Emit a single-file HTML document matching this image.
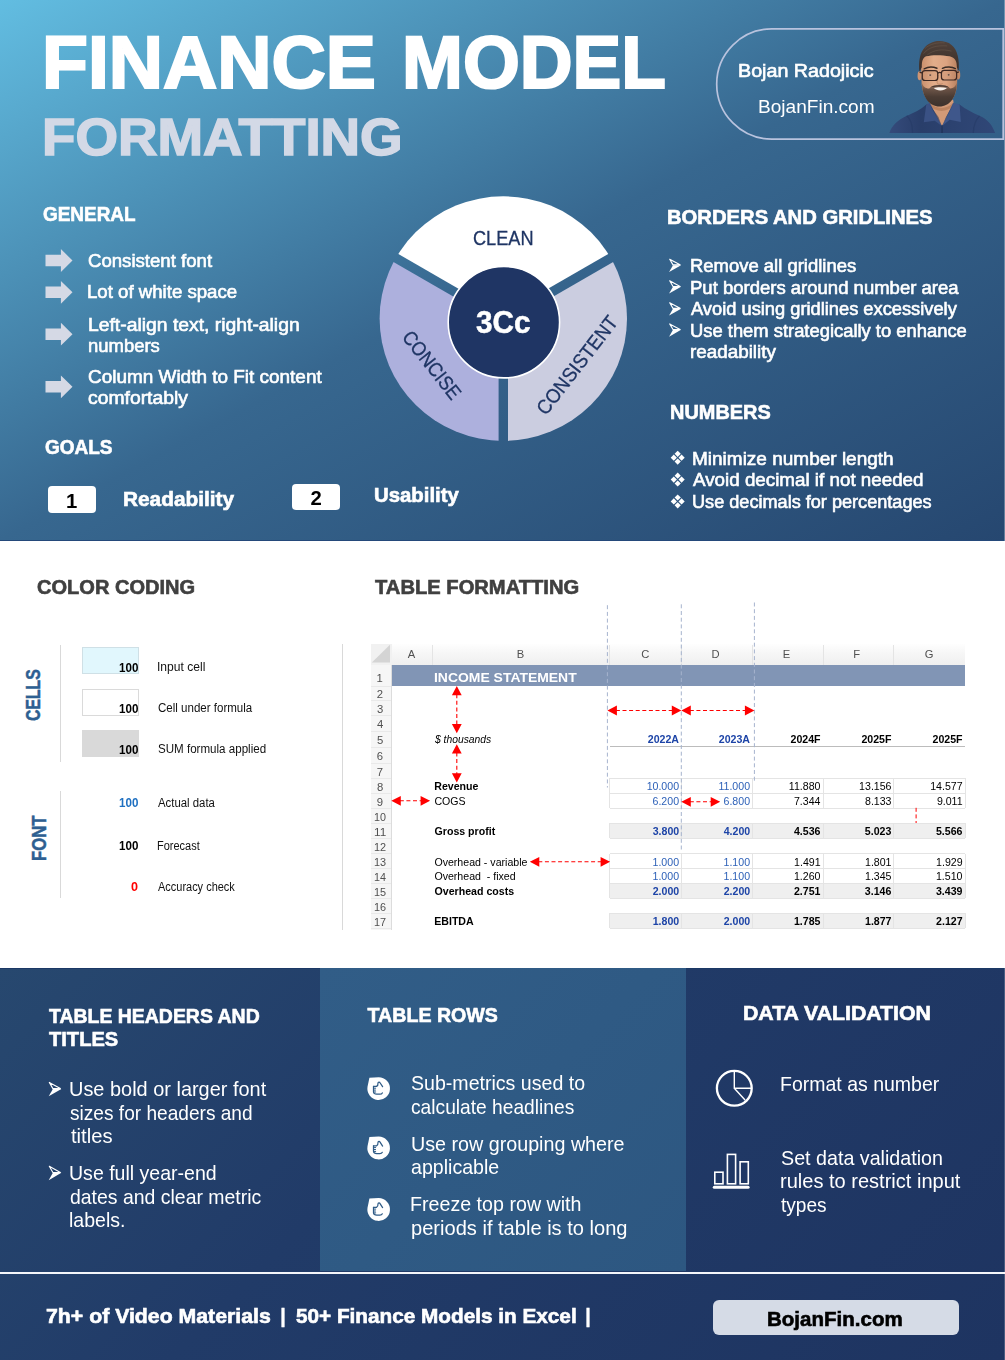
<!DOCTYPE html>
<html lang="en">
<head>
<meta charset="utf-8">
<title>Finance Model Formatting</title>
<style>
html,body{margin:0;padding:0;background:#fff;}
body{width:1005px;height:1360px;overflow:hidden;font-family:"Liberation Sans",sans-serif;}
#page{position:relative;width:1005px;height:1360px;overflow:hidden;background:#fff;}
.t{position:absolute;white-space:pre;line-height:1;transform-origin:0 0;display:block;}
.abs{position:absolute;}
svg{position:absolute;left:0;top:0;overflow:visible;}
#top{position:absolute;left:0;top:0;width:1005px;height:541px;background:linear-gradient(to bottom right,#62bde1 0%,#37678f 50%,#264770 100%);border-bottom:1px solid #24497a;box-sizing:border-box;}
#bot{position:absolute;left:0;top:967.5px;width:1005px;height:392.5px;background:linear-gradient(135deg,#27486f 0%,#213b68 40%,#1e3461 100%);border-top:1px solid #1b3865;box-sizing:border-box;}
#midpanel{position:absolute;left:319.7px;top:967.5px;width:366.3px;height:303px;background:linear-gradient(135deg,#315d87 0%,#2d5781 100%);}
#hr{position:absolute;left:0;top:1272.2px;width:1005px;height:1.7px;background:#f4f6fa;}
.box{position:absolute;background:#fff;border-radius:4px;}
#tl{position:absolute;left:0;top:0;width:1005px;height:1360px;will-change:transform;}

</style>
</head>
<body>
<div id="page">
<div id="top"></div>
<div class="box" style="left:48.4px;top:485.7px;width:47.3px;height:27.3px;"></div>
<div class="box" style="left:292px;top:483.7px;width:47.5px;height:26.8px;"></div>
<svg width="1005" height="541" viewBox="0 0 1005 541">
<path d="M1003.2 28.9 H771.8 A55.1 55.1 0 0 0 771.8 139.1 H1003.2 Z" fill="none" stroke="#b9c3de" stroke-width="1.7"/>
<defs>
<linearGradient id="skin" x1="0" y1="0" x2="1" y2="0"><stop offset="0" stop-color="#c98f6c"/><stop offset="0.35" stop-color="#e2ad8a"/><stop offset="0.7" stop-color="#dca381"/><stop offset="1" stop-color="#b98260"/></linearGradient>
<linearGradient id="shirt" x1="0" y1="0" x2="1" y2="0"><stop offset="0" stop-color="#354b7b"/><stop offset="0.3" stop-color="#293e6a"/><stop offset="0.6" stop-color="#2c4270"/><stop offset="1" stop-color="#304777"/></linearGradient>
<linearGradient id="hair" x1="0" y1="0" x2="0" y2="1"><stop offset="0" stop-color="#51423a"/><stop offset="1" stop-color="#382c27"/></linearGradient>
<linearGradient id="beard" x1="0" y1="0" x2="0" y2="1"><stop offset="0" stop-color="#6a5246" stop-opacity="0.35"/><stop offset="0.3" stop-color="#4d3d36" stop-opacity="0.8"/><stop offset="0.6" stop-color="#43362f" stop-opacity="0.95"/><stop offset="1" stop-color="#3d312c"/></linearGradient>
</defs>
<g id="portrait" transform="translate(880 30) scale(0.12438)">
<path d="M75 828 C95 770 140 725 215 690 C270 665 330 640 372 598 L640 598 C690 640 745 662 800 690 C870 722 905 770 925 828 Z" fill="url(#shirt)"/>
<path d="M215 690 C250 720 262 770 262 828 M800 690 C770 720 752 770 750 828" stroke="#243a66" stroke-width="10" fill="none" opacity="0.6"/>
<path d="M398 560 L588 560 L600 640 L498 770 L385 640 Z" fill="#d39a77"/>
<path d="M398 585 C450 640 540 640 588 585 L590 610 C540 665 450 665 396 610 Z" fill="#a9714f" opacity="0.55"/>
<path d="M372 598 L400 585 L497 772 L440 730 L352 742 Z" fill="#3a5184"/>
<path d="M640 598 L588 585 L500 772 L560 722 L650 740 Z" fill="#3f578b"/>
<path d="M494 765 L504 765 L506 828 L492 828 Z" fill="#22355c"/>
<path d="M400 600 L497 772 L470 700 Z M588 598 L500 772 L530 700 Z" fill="#1d2f55" opacity="0.55"/>
<ellipse cx="318" cy="368" rx="16" ry="36" fill="#cf9572"/>
<ellipse cx="630" cy="362" rx="15" ry="36" fill="#c38a68"/>
<path d="M330 300 C325 200 380 170 475 170 C570 170 628 205 622 300 L620 440 C612 540 560 612 478 612 C400 612 345 540 335 440 Z" fill="url(#skin)"/>
<path d="M336 420 C345 455 365 470 395 470 C415 448 440 440 480 440 C520 440 545 448 565 470 C590 468 608 455 618 420 C618 540 560 615 478 615 C398 615 338 540 336 420 Z" fill="url(#beard)"/>
<path d="M405 462 C430 438 530 438 556 462 C530 452 430 452 405 462 Z" fill="#3a2d28"/>
<path d="M432 466 C460 458 505 458 538 466 C515 492 455 492 432 466 Z" fill="#f6f1ec"/>
<path d="M318 335 C305 215 335 120 440 92 C480 84 540 88 575 120 C625 160 640 240 632 330 L618 300 C618 250 605 225 560 212 C500 200 420 198 370 212 C340 225 336 262 336 300 Z" fill="url(#hair)"/>
<path d="M360 150 C400 110 470 98 520 104 M350 190 C390 140 450 122 540 128 M380 200 C430 160 500 150 575 170" stroke="#6a584c" stroke-width="7" fill="none" opacity="0.6"/>
<path d="M355 312 C385 296 430 296 458 308 M502 308 C530 294 580 294 606 310" stroke="#3a2c26" stroke-width="12" fill="none" stroke-linecap="round"/>
<ellipse cx="402" cy="362" rx="15" ry="7" fill="#fff" opacity="0.35"/><ellipse cx="552" cy="360" rx="15" ry="7" fill="#fff" opacity="0.35"/>
<ellipse cx="404" cy="362" rx="9" ry="7" fill="#2c1f1a" opacity="0.85"/><ellipse cx="552" cy="360" rx="9" ry="7" fill="#2c1f1a" opacity="0.85"/>
<path d="M470 360 C465 400 455 420 462 430 C475 438 490 438 503 430" stroke="#b57f5e" stroke-width="7" fill="none" opacity="0.8"/>
<rect x="340" y="326" width="124" height="80" rx="22" fill="#c89070" fill-opacity="0.25" stroke="#3c2823" stroke-width="10"/>
<rect x="494" y="324" width="122" height="78" rx="22" fill="#c89070" fill-opacity="0.25" stroke="#3c2823" stroke-width="10"/>
<path d="M464 348 C474 340 486 340 494 346 M340 345 L318 340 M616 342 L634 336" stroke="#3c2823" stroke-width="10" fill="none"/>
</g>
<path d="M45.5 254.7 H60.9 V249.1 L72.5 260.5 L60.9 271.9 V266.3 H45.5 Z" fill="#d5d9e5"/>
<path d="M45.5 286.5 H60.9 V280.9 L72.5 292.3 L60.9 303.7 V298.1 H45.5 Z" fill="#d5d9e5"/>
<path d="M45.5 328.4 H60.9 V322.8 L72.5 334.2 L60.9 345.6 V340.0 H45.5 Z" fill="#d5d9e5"/>
<path d="M45.5 381.0 H60.9 V375.4 L72.5 386.8 L60.9 398.2 V392.6 H45.5 Z" fill="#d5d9e5"/>
<defs><mask id="dm" maskUnits="userSpaceOnUse" x="370" y="190" width="270" height="260">
<ellipse cx="503.3" cy="318.6" rx="123.7" ry="122.3" fill="#fff"/>
<line x1="503.3" y1="320.0" x2="503.30" y2="520.00" stroke="#000" stroke-width="9.4"/>
<line x1="503.3" y1="320.0" x2="330.09" y2="220.00" stroke="#000" stroke-width="9.4"/>
<line x1="503.3" y1="320.0" x2="676.51" y2="220.00" stroke="#000" stroke-width="9.4"/>
</mask></defs>
<g mask="url(#dm)">
<path d="M503.3 320.0 L330.09 220.00 A200 200 0 0 1 676.51 220.00 Z" fill="#ffffff"/>
<path d="M503.3 320.0 L676.51 220.00 A200 200 0 0 1 503.30 520.00 Z" fill="#cbcde0"/>
<path d="M503.3 320.0 L503.30 520.00 A200 200 0 0 1 330.09 220.00 Z" fill="#adb0dd"/>
</g>
<circle cx="503.9" cy="322.2" r="55.7" fill="#1f3564" stroke="#ffffff" stroke-width="1.6"/>
<path d="M673.0 265.15 L681.1 265.15 L669.1 272.00 Z" fill="#fff"/><path d="M669.7 259.20 L680.1 264.85 L673.0 264.85 Z" fill="none" stroke="#fff" stroke-width="1.1" stroke-linejoin="round"/>
<path d="M673.0 286.75 L681.1 286.75 L669.1 293.60 Z" fill="#fff"/><path d="M669.7 280.80 L680.1 286.45 L673.0 286.45 Z" fill="none" stroke="#fff" stroke-width="1.1" stroke-linejoin="round"/>
<path d="M673.0 308.65 L681.1 308.65 L669.1 315.50 Z" fill="#fff"/><path d="M669.7 302.70 L680.1 308.35 L673.0 308.35 Z" fill="none" stroke="#fff" stroke-width="1.1" stroke-linejoin="round"/>
<path d="M673.0 329.85 L681.1 329.85 L669.1 336.70 Z" fill="#fff"/><path d="M669.7 323.90 L680.1 329.55 L673.0 329.55 Z" fill="none" stroke="#fff" stroke-width="1.1" stroke-linejoin="round"/>
<path d="M677.70 450.70 L680.80 453.80 L677.70 456.90 L674.60 453.80 Z" fill="#fff"/><path d="M677.70 458.50 L680.80 461.60 L677.70 464.70 L674.60 461.60 Z" fill="#fff"/><path d="M673.80 454.60 L676.90 457.70 L673.80 460.80 L670.70 457.70 Z" fill="#fff"/><path d="M681.60 454.60 L684.70 457.70 L681.60 460.80 L678.50 457.70 Z" fill="#fff"/>
<path d="M677.70 472.60 L680.80 475.70 L677.70 478.80 L674.60 475.70 Z" fill="#fff"/><path d="M677.70 480.40 L680.80 483.50 L677.70 486.60 L674.60 483.50 Z" fill="#fff"/><path d="M673.80 476.50 L676.90 479.60 L673.80 482.70 L670.70 479.60 Z" fill="#fff"/><path d="M681.60 476.50 L684.70 479.60 L681.60 482.70 L678.50 479.60 Z" fill="#fff"/>
<path d="M677.70 494.40 L680.80 497.50 L677.70 500.60 L674.60 497.50 Z" fill="#fff"/><path d="M677.70 502.20 L680.80 505.30 L677.70 508.40 L674.60 505.30 Z" fill="#fff"/><path d="M673.80 498.30 L676.90 501.40 L673.80 504.50 L670.70 501.40 Z" fill="#fff"/><path d="M681.60 498.30 L684.70 501.40 L681.60 504.50 L678.50 501.40 Z" fill="#fff"/>
</svg>
<div class="abs" style="left:59.8px;top:645px;width:1px;height:117px;background:#d9d9d9;"></div>
<div class="abs" style="left:59.8px;top:790.8px;width:1px;height:107px;background:#d9d9d9;"></div>
<div class="abs" style="left:342.4px;top:644px;width:1px;height:286px;background:#d9d9d9;"></div>
<div class="abs" style="left:82.4px;top:647.4px;width:56.9px;height:27px;background:#e1f7fd;border:1px solid #cfe0e6;box-sizing:border-box;"></div>
<div class="abs" style="left:82.4px;top:688.6px;width:56.9px;height:27px;background:#fff;border:1px solid #dadada;box-sizing:border-box;"></div>
<div class="abs" style="left:82.4px;top:729.8px;width:56.9px;height:27px;background:#d9d9d9;"></div>
<span class="t" style="left:23.0px;top:721.3px;font-size:20px;font-weight:700;color:#2e5f91;-webkit-text-stroke:0.5px #2e5f91;transform-origin:0 0;transform:rotate(-90deg) scaleX(0.79);">CELLS</span>
<span class="t" style="left:28.6px;top:860.9px;font-size:20px;font-weight:700;color:#2e5f91;-webkit-text-stroke:0.5px #2e5f91;transform-origin:0 0;transform:rotate(-90deg) scaleX(0.835);">FONT</span>
<div class="abs" style="left:370.5px;top:644.0px;width:594.8px;height:21.0px;background:linear-gradient(#fefefe,#f7f7f7 40%,#efefef);"></div>
<div class="abs" style="left:391.1px;top:645.0px;width:1.0px;height:20.0px;background:#e4e4e4;"></div>
<div class="abs" style="left:432.2px;top:645.0px;width:1.0px;height:20.0px;background:#e4e4e4;"></div>
<div class="abs" style="left:609.1px;top:645.0px;width:1.0px;height:20.0px;background:#e4e4e4;"></div>
<div class="abs" style="left:680.5px;top:645.0px;width:1.0px;height:20.0px;background:#e4e4e4;"></div>
<div class="abs" style="left:751.5px;top:645.0px;width:1.0px;height:20.0px;background:#e4e4e4;"></div>
<div class="abs" style="left:822.5px;top:645.0px;width:1.0px;height:20.0px;background:#e4e4e4;"></div>
<div class="abs" style="left:893.3px;top:645.0px;width:1.0px;height:20.0px;background:#e4e4e4;"></div>
<div class="abs" style="left:370.5px;top:644.0px;width:21.1px;height:21.0px;background:#f1f1f1;"></div>
<div class="abs" style="left:370.5px;top:665.0px;width:21.1px;height:264.6px;background:#f6f6f6;border-right:1px solid #dcdcdc;box-sizing:border-box;"></div>
<div class="abs" style="left:370.5px;top:685.5px;width:20.1px;height:1.0px;background:#e9e9e9;"></div>
<div class="abs" style="left:370.5px;top:700.2px;width:20.1px;height:1.0px;background:#e9e9e9;"></div>
<div class="abs" style="left:370.5px;top:715.2px;width:20.1px;height:1.0px;background:#e9e9e9;"></div>
<div class="abs" style="left:370.5px;top:730.8px;width:20.1px;height:1.0px;background:#e9e9e9;"></div>
<div class="abs" style="left:370.5px;top:746.8px;width:20.1px;height:1.0px;background:#e9e9e9;"></div>
<div class="abs" style="left:370.5px;top:762.9px;width:20.1px;height:1.0px;background:#e9e9e9;"></div>
<div class="abs" style="left:370.5px;top:777.8px;width:20.1px;height:1.0px;background:#e9e9e9;"></div>
<div class="abs" style="left:370.5px;top:792.9px;width:20.1px;height:1.0px;background:#e9e9e9;"></div>
<div class="abs" style="left:370.5px;top:807.8px;width:20.1px;height:1.0px;background:#e9e9e9;"></div>
<div class="abs" style="left:370.5px;top:822.8px;width:20.1px;height:1.0px;background:#e9e9e9;"></div>
<div class="abs" style="left:370.5px;top:837.9px;width:20.1px;height:1.0px;background:#e9e9e9;"></div>
<div class="abs" style="left:370.5px;top:853.0px;width:20.1px;height:1.0px;background:#e9e9e9;"></div>
<div class="abs" style="left:370.5px;top:867.8px;width:20.1px;height:1.0px;background:#e9e9e9;"></div>
<div class="abs" style="left:370.5px;top:882.8px;width:20.1px;height:1.0px;background:#e9e9e9;"></div>
<div class="abs" style="left:370.5px;top:897.9px;width:20.1px;height:1.0px;background:#e9e9e9;"></div>
<div class="abs" style="left:370.5px;top:912.8px;width:20.1px;height:1.0px;background:#e9e9e9;"></div>
<div class="abs" style="left:370.5px;top:927.9px;width:20.1px;height:1.0px;background:#e9e9e9;"></div>
<div class="abs" style="left:391.6px;top:665.0px;width:573.7px;height:21.0px;background:#8195b5;"></div>
<div class="abs" style="left:609.6px;top:823.3px;width:355.7px;height:15.1px;background:#efefef;"></div>
<div class="abs" style="left:609.6px;top:883.3px;width:355.7px;height:15.1px;background:#efefef;"></div>
<div class="abs" style="left:609.6px;top:913.3px;width:355.7px;height:15.1px;background:#efefef;"></div>
<div class="abs" style="left:609.6px;top:777.8px;width:355.7px;height:1.0px;background:#e4e4e4;"></div>
<div class="abs" style="left:609.6px;top:792.9px;width:355.7px;height:1.0px;background:#e4e4e4;"></div>
<div class="abs" style="left:609.6px;top:807.8px;width:355.7px;height:1.0px;background:#e4e4e4;"></div>
<div class="abs" style="left:609.1px;top:778.3px;width:1.0px;height:30.0px;background:#e4e4e4;"></div>
<div class="abs" style="left:680.5px;top:778.3px;width:1.0px;height:30.0px;background:#e4e4e4;"></div>
<div class="abs" style="left:751.5px;top:778.3px;width:1.0px;height:30.0px;background:#e4e4e4;"></div>
<div class="abs" style="left:822.5px;top:778.3px;width:1.0px;height:30.0px;background:#e4e4e4;"></div>
<div class="abs" style="left:893.3px;top:778.3px;width:1.0px;height:30.0px;background:#e4e4e4;"></div>
<div class="abs" style="left:964.8px;top:778.3px;width:1.0px;height:30.0px;background:#e4e4e4;"></div>
<div class="abs" style="left:609.6px;top:822.8px;width:355.7px;height:1.0px;background:#e4e4e4;"></div>
<div class="abs" style="left:609.6px;top:837.9px;width:355.7px;height:1.0px;background:#e4e4e4;"></div>
<div class="abs" style="left:609.1px;top:823.3px;width:1.0px;height:15.1px;background:#e4e4e4;"></div>
<div class="abs" style="left:680.5px;top:823.3px;width:1.0px;height:15.1px;background:#e4e4e4;"></div>
<div class="abs" style="left:751.5px;top:823.3px;width:1.0px;height:15.1px;background:#e4e4e4;"></div>
<div class="abs" style="left:822.5px;top:823.3px;width:1.0px;height:15.1px;background:#e4e4e4;"></div>
<div class="abs" style="left:893.3px;top:823.3px;width:1.0px;height:15.1px;background:#e4e4e4;"></div>
<div class="abs" style="left:964.8px;top:823.3px;width:1.0px;height:15.1px;background:#e4e4e4;"></div>
<div class="abs" style="left:609.6px;top:853.0px;width:355.7px;height:1.0px;background:#e4e4e4;"></div>
<div class="abs" style="left:609.6px;top:867.8px;width:355.7px;height:1.0px;background:#e4e4e4;"></div>
<div class="abs" style="left:609.6px;top:882.8px;width:355.7px;height:1.0px;background:#e4e4e4;"></div>
<div class="abs" style="left:609.6px;top:897.9px;width:355.7px;height:1.0px;background:#e4e4e4;"></div>
<div class="abs" style="left:609.1px;top:853.5px;width:1.0px;height:44.9px;background:#e4e4e4;"></div>
<div class="abs" style="left:680.5px;top:853.5px;width:1.0px;height:44.9px;background:#e4e4e4;"></div>
<div class="abs" style="left:751.5px;top:853.5px;width:1.0px;height:44.9px;background:#e4e4e4;"></div>
<div class="abs" style="left:822.5px;top:853.5px;width:1.0px;height:44.9px;background:#e4e4e4;"></div>
<div class="abs" style="left:893.3px;top:853.5px;width:1.0px;height:44.9px;background:#e4e4e4;"></div>
<div class="abs" style="left:964.8px;top:853.5px;width:1.0px;height:44.9px;background:#e4e4e4;"></div>
<div class="abs" style="left:609.6px;top:912.8px;width:355.7px;height:1.0px;background:#e4e4e4;"></div>
<div class="abs" style="left:609.6px;top:927.9px;width:355.7px;height:1.0px;background:#e4e4e4;"></div>
<div class="abs" style="left:609.1px;top:913.3px;width:1.0px;height:15.1px;background:#e4e4e4;"></div>
<div class="abs" style="left:680.5px;top:913.3px;width:1.0px;height:15.1px;background:#e4e4e4;"></div>
<div class="abs" style="left:751.5px;top:913.3px;width:1.0px;height:15.1px;background:#e4e4e4;"></div>
<div class="abs" style="left:822.5px;top:913.3px;width:1.0px;height:15.1px;background:#e4e4e4;"></div>
<div class="abs" style="left:893.3px;top:913.3px;width:1.0px;height:15.1px;background:#e4e4e4;"></div>
<div class="abs" style="left:964.8px;top:913.3px;width:1.0px;height:15.1px;background:#e4e4e4;"></div>
<div class="abs" style="left:609.6px;top:746.2px;width:355.7px;height:1.0px;background:#bcbcbc;"></div>
<svg width="1005" height="1360" viewBox="0 0 1005 1360">
<path d="M371.8 662.6 L390 662.6 L390 644.8 Z" fill="#d4d4d4"/>
<line x1="607.4" y1="605.2" x2="607.4" y2="787.5" stroke="#a6b3ce" stroke-width="1" stroke-dasharray="4 2.7"/>
<line x1="681.3" y1="604.3" x2="681.3" y2="850" stroke="#a6b3ce" stroke-width="1" stroke-dasharray="4 2.7"/>
<line x1="754.4" y1="602.5" x2="754.4" y2="781.5" stroke="#a6b3ce" stroke-width="1" stroke-dasharray="4 2.7"/>
<line x1="456.8" y1="694.2" x2="456.8" y2="725.0" stroke="#ff0000" stroke-width="1.1" stroke-dasharray="4 2.6"/><path d="M456.8 686.0 L451.9 695.2 L461.7 695.2 Z M456.8 733.2 L451.9 724.0 L461.7 724.0 Z" fill="#ff0000"/>
<line x1="456.8" y1="752.5" x2="456.8" y2="774.2" stroke="#ff0000" stroke-width="1.1" stroke-dasharray="4 2.6"/><path d="M456.8 744.3 L451.9 753.5 L461.7 753.5 Z M456.8 782.4 L451.9 773.2 L461.7 773.2 Z" fill="#ff0000"/>
<line x1="615.9" y1="710.5" x2="672.8" y2="710.5" stroke="#ff0000" stroke-width="1.1" stroke-dasharray="4 2.6"/><path d="M607.4 710.5 L616.9 705.6 L616.9 715.4 Z M681.3 710.5 L671.8 705.6 L671.8 715.4 Z" fill="#ff0000"/>
<line x1="689.8" y1="710.5" x2="745.9" y2="710.5" stroke="#ff0000" stroke-width="1.1" stroke-dasharray="4 2.6"/><path d="M681.3 710.5 L690.8 705.6 L690.8 715.4 Z M754.4 710.5 L744.9 705.6 L744.9 715.4 Z" fill="#ff0000"/>
<line x1="399.8" y1="800.8" x2="421.6" y2="800.8" stroke="#ff0000" stroke-width="1.1" stroke-dasharray="4 2.6"/><path d="M391.3 800.8 L400.8 795.9 L400.8 805.7 Z M430.1 800.8 L420.6 795.9 L420.6 805.7 Z" fill="#ff0000"/>
<line x1="689.8" y1="801.8" x2="711.7" y2="801.8" stroke="#ff0000" stroke-width="1.1" stroke-dasharray="4 2.6"/><path d="M681.3 801.8 L690.8 796.9 L690.8 806.7 Z M720.2 801.8 L710.7 796.9 L710.7 806.7 Z" fill="#ff0000"/>
<line x1="538.3" y1="861.8" x2="601.6" y2="861.8" stroke="#ff0000" stroke-width="1.1" stroke-dasharray="4 2.6"/><path d="M529.8 861.8 L539.3 856.9 L539.3 866.7 Z M610.1 861.8 L600.6 856.9 L600.6 866.7 Z" fill="#ff0000"/>
<line x1="916.1" y1="807.8" x2="916.1" y2="823" stroke="#ff0000" stroke-width="1" stroke-dasharray="4 2.6"/>
</svg>
<div id="bot"></div>
<div id="midpanel"></div>
<div id="hr"></div>
<div class="abs" style="left:712.8px;top:1300.1px;width:245.8px;height:35px;background:#d5dbe6;border-radius:6px;"></div>
<svg width="1005" height="1360" viewBox="0 0 1005 1360">
<path d="M52.9 1088.90 L61.4 1088.90 L48.7 1096.30 Z" fill="#fff"/><path d="M49.3 1082.40 L60.4 1088.60 L52.9 1088.60 Z" fill="none" stroke="#fff" stroke-width="1.1" stroke-linejoin="round"/>
<path d="M52.9 1172.80 L61.4 1172.80 L48.7 1180.20 Z" fill="#fff"/><path d="M49.3 1166.30 L60.4 1172.50 L52.9 1172.50 Z" fill="none" stroke="#fff" stroke-width="1.1" stroke-linejoin="round"/>
<g transform="translate(378.7 1088.6)"><path d="M-9.3 -10.9 L0 -11.4 A11.3 11.4 0 1 1 -11.2 -1.8 L-10.3 -6 Z" fill="#fff"/><path d="M-5.2 -2.2 H-2.2 C-1.2 -2.6 -0.6 -4.2 -0.7 -5.6 C-0.7 -6.9 1 -6.9 1.5 -5.6 L3.9 -1.9" fill="none" stroke="#2f5b86" stroke-width="1.25" stroke-linecap="round" stroke-linejoin="round"/><path d="M-5.2 -2.2 V3.4 C-5 4.9 -3.6 5.6 -2 5.6 H1.2 C2.2 5.6 3.2 5.2 3.6 4.3" fill="none" stroke="#2f5b86" stroke-width="1.25" stroke-linecap="round" stroke-linejoin="round"/><path d="M-5.2 -0.4 H-3.0 M-5.2 1.5 H-3.2 M-5 3.4 H-3.0" stroke="#2f5b86" stroke-width="1.0" stroke-linecap="round"/></g>
<g transform="translate(378.7 1148.0)"><path d="M-9.3 -10.9 L0 -11.4 A11.3 11.4 0 1 1 -11.2 -1.8 L-10.3 -6 Z" fill="#fff"/><path d="M-5.2 -2.2 H-2.2 C-1.2 -2.6 -0.6 -4.2 -0.7 -5.6 C-0.7 -6.9 1 -6.9 1.5 -5.6 L3.9 -1.9" fill="none" stroke="#2f5b86" stroke-width="1.25" stroke-linecap="round" stroke-linejoin="round"/><path d="M-5.2 -2.2 V3.4 C-5 4.9 -3.6 5.6 -2 5.6 H1.2 C2.2 5.6 3.2 5.2 3.6 4.3" fill="none" stroke="#2f5b86" stroke-width="1.25" stroke-linecap="round" stroke-linejoin="round"/><path d="M-5.2 -0.4 H-3.0 M-5.2 1.5 H-3.2 M-5 3.4 H-3.0" stroke="#2f5b86" stroke-width="1.0" stroke-linecap="round"/></g>
<g transform="translate(378.7 1209.5)"><path d="M-9.3 -10.9 L0 -11.4 A11.3 11.4 0 1 1 -11.2 -1.8 L-10.3 -6 Z" fill="#fff"/><path d="M-5.2 -2.2 H-2.2 C-1.2 -2.6 -0.6 -4.2 -0.7 -5.6 C-0.7 -6.9 1 -6.9 1.5 -5.6 L3.9 -1.9" fill="none" stroke="#2f5b86" stroke-width="1.25" stroke-linecap="round" stroke-linejoin="round"/><path d="M-5.2 -2.2 V3.4 C-5 4.9 -3.6 5.6 -2 5.6 H1.2 C2.2 5.6 3.2 5.2 3.6 4.3" fill="none" stroke="#2f5b86" stroke-width="1.25" stroke-linecap="round" stroke-linejoin="round"/><path d="M-5.2 -0.4 H-3.0 M-5.2 1.5 H-3.2 M-5 3.4 H-3.0" stroke="#2f5b86" stroke-width="1.0" stroke-linecap="round"/></g>
<g fill="none" stroke="#fff" stroke-linecap="round"><circle cx="734.3" cy="1088.3" r="17.4" stroke-width="2.3"/><path d="M734.3 1071 V1088.3 H751.5 M734.3 1088.3 L744.8 1099.8" stroke-width="1.4"/></g>
<g fill="none" stroke="#fff" stroke-width="1.6"><rect x="714.8" y="1172.2" width="8.2" height="11.6"/><rect x="727.4" y="1154.4" width="8.2" height="29.4"/><rect x="740.1" y="1161.8" width="8.2" height="22"/></g><rect x="712.8" y="1185.8" width="36.8" height="3" rx="1.5" fill="#fff"/>
</svg>
<!-- edge strip --><div class="abs" style="left:1004px;top:0;width:1px;height:541px;background:rgba(255,255,255,.3);"></div><div class="abs" style="left:1004px;top:968px;width:1px;height:392px;background:rgba(255,255,255,.2);"></div>
<!-- text layer -->
<div id="tl">
<span class="t" style="left:432.3px;top:364.9px;font-size:20px;color:#1f3564;-webkit-text-stroke:0.3px #1f3564;transform:rotate(51.7deg) scaleX(0.8902) translate(-50%,-50%);">CONCISE</span>
<span class="t" style="left:576.5px;top:364.6px;font-size:20px;color:#1f3564;-webkit-text-stroke:0.3px #1f3564;transform:rotate(-52.2deg) scaleX(0.9222) translate(-50%,-50%);">CONSISTENT</span>
<span class="t" style="left:41.90px;top:27.00px;font-size:73.4px;color:#ffffff;font-weight:700;-webkit-text-stroke:2.2px #ffffff;transform:scaleX(1.0235);">FINANCE</span>
<span class="t" style="left:402.03px;top:27.00px;font-size:73.4px;color:#ffffff;font-weight:700;-webkit-text-stroke:2.2px #ffffff;transform:scaleX(0.9958);">MODEL</span>
<span class="t" style="left:42.23px;top:112.00px;font-size:51.2px;color:#d3d9e6;font-weight:700;-webkit-text-stroke:1.5px #d3d9e6;transform:scaleX(1.0690);">FORMATTING</span>
<span class="t" style="left:738.26px;top:62.00px;font-size:18px;color:#ffffff;-webkit-text-stroke:0.6px #ffffff;transform:scaleX(1.0933);">Bojan Radojicic</span>
<span class="t" style="left:758.31px;top:97.00px;font-size:19px;color:#ffffff;transform:scaleX(1.0036);">BojanFin.com</span>
<span class="t" style="left:43.11px;top:205.00px;font-size:19.6px;color:#ffffff;font-weight:700;-webkit-text-stroke:0.6px #ffffff;transform:scaleX(0.9665);">GENERAL</span>
<span class="t" style="left:88.13px;top:253.00px;font-size:17.8px;color:#ffffff;-webkit-text-stroke:0.6px #ffffff;transform:scaleX(1.0461);">Consistent font</span>
<span class="t" style="left:87.14px;top:284.00px;font-size:17.8px;color:#ffffff;-webkit-text-stroke:0.6px #ffffff;transform:scaleX(1.0476);">Lot of white space</span>
<span class="t" style="left:87.99px;top:317.00px;font-size:17.8px;color:#ffffff;-webkit-text-stroke:0.6px #ffffff;transform:scaleX(1.0871);">Left-align text, right-align</span>
<span class="t" style="left:88.35px;top:338.00px;font-size:17.8px;color:#ffffff;-webkit-text-stroke:0.6px #ffffff;transform:scaleX(1.0372);">numbers</span>
<span class="t" style="left:87.71px;top:369.00px;font-size:17.8px;color:#ffffff;-webkit-text-stroke:0.6px #ffffff;transform:scaleX(1.0651);">Column Width to Fit content</span>
<span class="t" style="left:88.00px;top:390.00px;font-size:17.8px;color:#ffffff;-webkit-text-stroke:0.6px #ffffff;transform:scaleX(1.0870);">comfortably</span>
<span class="t" style="left:44.71px;top:438.00px;font-size:19.6px;color:#ffffff;font-weight:700;-webkit-text-stroke:0.6px #ffffff;transform:scaleX(0.9685);">GOALS</span>
<span class="t" style="left:122.50px;top:490.00px;font-size:19.6px;color:#ffffff;font-weight:700;-webkit-text-stroke:0.6px #ffffff;transform:scaleX(1.0622);">Readability</span>
<span class="t" style="left:373.65px;top:486.00px;font-size:19.6px;color:#ffffff;font-weight:700;-webkit-text-stroke:0.6px #ffffff;transform:scaleX(1.0383);">Usability</span>
<span class="t" style="left:66.03px;top:491.00px;font-size:20.3px;color:#000;font-weight:700;">1</span>
<span class="t" style="left:310.57px;top:488.00px;font-size:20.3px;color:#000;font-weight:700;">2</span>
<span class="t" style="left:667.44px;top:208.00px;font-size:19.6px;color:#ffffff;font-weight:700;-webkit-text-stroke:0.6px #ffffff;transform:scaleX(1.0322);">BORDERS AND GRIDLINES</span>
<span class="t" style="left:689.86px;top:258.00px;font-size:17.8px;color:#ffffff;-webkit-text-stroke:0.6px #ffffff;transform:scaleX(1.0378);">Remove all gridlines</span>
<span class="t" style="left:689.85px;top:280.00px;font-size:17.8px;color:#ffffff;-webkit-text-stroke:0.6px #ffffff;transform:scaleX(1.0409);">Put borders around number area</span>
<span class="t" style="left:690.90px;top:301.00px;font-size:17.8px;color:#ffffff;-webkit-text-stroke:0.6px #ffffff;transform:scaleX(1.0278);">Avoid using gridlines excessively</span>
<span class="t" style="left:690.15px;top:323.00px;font-size:17.8px;color:#ffffff;-webkit-text-stroke:0.6px #ffffff;transform:scaleX(1.0334);">Use them strategically to enhance</span>
<span class="t" style="left:690.12px;top:344.00px;font-size:17.8px;color:#ffffff;-webkit-text-stroke:0.6px #ffffff;transform:scaleX(1.0597);">readability</span>
<span class="t" style="left:669.55px;top:403.00px;font-size:19.6px;color:#ffffff;font-weight:700;-webkit-text-stroke:0.6px #ffffff;transform:scaleX(1.0170);">NUMBERS</span>
<span class="t" style="left:691.91px;top:451.00px;font-size:17.8px;color:#ffffff;-webkit-text-stroke:0.6px #ffffff;transform:scaleX(1.0682);">Minimize number length</span>
<span class="t" style="left:692.70px;top:472.00px;font-size:17.8px;color:#ffffff;-webkit-text-stroke:0.6px #ffffff;transform:scaleX(1.0568);">Avoid decimal if not needed</span>
<span class="t" style="left:692.27px;top:494.00px;font-size:17.8px;color:#ffffff;-webkit-text-stroke:0.6px #ffffff;transform:scaleX(1.0188);">Use decimals for percentages</span>
<span class="t" style="left:473.30px;top:228.00px;font-size:20.2px;color:#1f3564;-webkit-text-stroke:0.3px #1f3564;transform:scaleX(0.8987);">CLEAN</span>
<span class="t" style="left:475.59px;top:308.00px;font-size:30.8px;color:#ffffff;font-weight:700;-webkit-text-stroke:0.5px #ffffff;transform:scaleX(0.9646);">3Cc</span>
<span class="t" style="left:37.27px;top:578.00px;font-size:19.6px;color:#404040;font-weight:700;-webkit-text-stroke:0.6px #404040;transform:scaleX(1.0226);">COLOR CODING</span>
<span class="t" style="left:374.80px;top:578.00px;font-size:19.6px;color:#404040;font-weight:700;-webkit-text-stroke:0.6px #404040;transform:scaleX(1.0291);">TABLE FORMATTING</span>
<span class="t" style="left:48.70px;top:1007.00px;font-size:19.6px;color:#ffffff;font-weight:700;-webkit-text-stroke:0.6px #ffffff;transform:scaleX(0.9925);">TABLE HEADERS AND</span>
<span class="t" style="left:48.70px;top:1030.00px;font-size:19.6px;color:#ffffff;font-weight:700;-webkit-text-stroke:0.6px #ffffff;transform:scaleX(1.0255);">TITLES</span>
<span class="t" style="left:69.35px;top:1079.00px;font-size:20.3px;color:#ffffff;transform:scaleX(0.9827);">Use bold or larger font</span>
<span class="t" style="left:70.30px;top:1103.00px;font-size:20.3px;color:#ffffff;transform:scaleX(0.9417);">sizes for headers and</span>
<span class="t" style="left:70.60px;top:1126.00px;font-size:20.3px;color:#ffffff;transform:scaleX(0.9974);">titles</span>
<span class="t" style="left:69.38px;top:1163.00px;font-size:20.3px;color:#ffffff;transform:scaleX(0.9633);">Use full year-end</span>
<span class="t" style="left:69.99px;top:1187.00px;font-size:20.3px;color:#ffffff;transform:scaleX(0.9585);">dates and clear metric</span>
<span class="t" style="left:69.38px;top:1210.00px;font-size:20.3px;color:#ffffff;transform:scaleX(0.9626);">labels.</span>
<span class="t" style="left:367.60px;top:1006.00px;font-size:19.6px;color:#ffffff;font-weight:700;-webkit-text-stroke:0.6px #ffffff;">TABLE ROWS</span>
<span class="t" style="left:411.29px;top:1073.00px;font-size:20.3px;color:#ffffff;transform:scaleX(0.9650);">Sub-metrics used to</span>
<span class="t" style="left:411.30px;top:1097.00px;font-size:20.3px;color:#ffffff;transform:scaleX(0.9463);">calculate headlines</span>
<span class="t" style="left:410.67px;top:1134.00px;font-size:20.3px;color:#ffffff;transform:scaleX(0.9714);">Use row grouping where</span>
<span class="t" style="left:411.29px;top:1157.00px;font-size:20.3px;color:#ffffff;transform:scaleX(0.9660);">applicable</span>
<span class="t" style="left:410.36px;top:1194.00px;font-size:20.3px;color:#ffffff;transform:scaleX(0.9690);">Freeze top row with</span>
<span class="t" style="left:410.64px;top:1218.00px;font-size:20.3px;color:#ffffff;transform:scaleX(0.9898);">periods if table is to long</span>
<span class="t" style="left:742.77px;top:1004.00px;font-size:19.6px;color:#ffffff;font-weight:700;-webkit-text-stroke:0.6px #ffffff;transform:scaleX(1.0857);">DATA VALIDATION</span>
<span class="t" style="left:779.68px;top:1074.00px;font-size:20.3px;color:#ffffff;transform:scaleX(0.9613);">Format as number</span>
<span class="t" style="left:780.58px;top:1148.00px;font-size:20.3px;color:#ffffff;transform:scaleX(0.9706);">Set data validation</span>
<span class="t" style="left:779.95px;top:1171.00px;font-size:20.3px;color:#ffffff;transform:scaleX(0.9880);">rules to restrict input</span>
<span class="t" style="left:781.20px;top:1195.00px;font-size:20.3px;color:#ffffff;transform:scaleX(0.9418);">types</span>
<span class="t" style="left:46.04px;top:1307.00px;font-size:19.6px;color:#ffffff;font-weight:700;-webkit-text-stroke:0.6px #ffffff;transform:scaleX(1.0854);">7h+ of Video Materials</span>
<span class="t" style="left:280.17px;top:1307.00px;font-size:19.6px;color:#ffffff;font-weight:700;-webkit-text-stroke:0.4px #ffffff;">|</span>
<span class="t" style="left:295.78px;top:1307.00px;font-size:19.6px;color:#ffffff;font-weight:700;-webkit-text-stroke:0.6px #ffffff;transform:scaleX(1.0584);">50+ Finance Models in Excel</span>
<span class="t" style="left:585.27px;top:1307.00px;font-size:19.6px;color:#ffffff;font-weight:700;-webkit-text-stroke:0.4px #ffffff;">|</span>
<span class="t" style="left:767.12px;top:1309.00px;font-size:20.2px;color:#000;font-weight:700;-webkit-text-stroke:0.6px #000;transform:scaleX(1.0164);">BojanFin.com</span>
<span class="t" style="left:118.57px;top:661.00px;font-size:13.2px;color:#000000;font-weight:700;transform:scaleX(0.8808);">100</span>
<span class="t" style="left:118.57px;top:702.00px;font-size:13.2px;color:#000000;font-weight:700;transform:scaleX(0.8808);">100</span>
<span class="t" style="left:118.57px;top:743.00px;font-size:13.2px;color:#000000;font-weight:700;transform:scaleX(0.8808);">100</span>
<span class="t" style="left:118.57px;top:796.00px;font-size:13.2px;color:#1f70c1;font-weight:700;transform:scaleX(0.8808);">100</span>
<span class="t" style="left:118.57px;top:839.00px;font-size:13.2px;color:#000000;font-weight:700;transform:scaleX(0.8808);">100</span>
<span class="t" style="left:131.01px;top:880.00px;font-size:13.2px;color:#ff0000;font-weight:700;transform:scaleX(0.9541);">0</span>
<span class="t" style="left:157.36px;top:661.00px;font-size:12.3px;color:#111111;transform:scaleX(0.9819);">Input cell</span>
<span class="t" style="left:157.76px;top:702.00px;font-size:12.3px;color:#111111;transform:scaleX(0.9380);">Cell under formula</span>
<span class="t" style="left:157.94px;top:743.00px;font-size:12.3px;color:#111111;transform:scaleX(0.9413);">SUM formula applied</span>
<span class="t" style="left:158.30px;top:797.00px;font-size:12.3px;color:#111111;transform:scaleX(0.9250);">Actual data</span>
<span class="t" style="left:157.44px;top:840.00px;font-size:12.3px;color:#111111;transform:scaleX(0.8928);">Forecast</span>
<span class="t" style="left:158.30px;top:881.00px;font-size:12.3px;color:#111111;transform:scaleX(0.8920);">Accuracy check</span>
<span class="t" style="left:411.30px;top:649.00px;font-size:11.2px;color:#505050;margin-left:-3.6px;">A</span>
<span class="t" style="left:520.33px;top:649.00px;font-size:11.2px;color:#505050;margin-left:-3.6px;">B</span>
<span class="t" style="left:644.88px;top:649.00px;font-size:11.2px;color:#505050;margin-left:-3.6px;">C</span>
<span class="t" style="left:715.12px;top:649.00px;font-size:11.2px;color:#505050;margin-left:-3.6px;">D</span>
<span class="t" style="left:786.23px;top:649.00px;font-size:11.2px;color:#505050;margin-left:-3.6px;">E</span>
<span class="t" style="left:856.92px;top:649.00px;font-size:11.2px;color:#505050;margin-left:-3.6px;">F</span>
<span class="t" style="left:928.38px;top:649.00px;font-size:11.2px;color:#505050;margin-left:-3.6px;">G</span>
<span class="t" style="left:376.59px;top:673.00px;font-size:11.3px;color:#505050;">1</span>
<span class="t" style="left:376.77px;top:689.00px;font-size:11.3px;color:#505050;">2</span>
<span class="t" style="left:376.95px;top:704.00px;font-size:11.3px;color:#505050;">3</span>
<span class="t" style="left:377.12px;top:719.00px;font-size:11.3px;color:#505050;">4</span>
<span class="t" style="left:376.95px;top:735.00px;font-size:11.3px;color:#505050;">5</span>
<span class="t" style="left:376.77px;top:751.00px;font-size:11.3px;color:#505050;">6</span>
<span class="t" style="left:376.77px;top:767.00px;font-size:11.3px;color:#505050;">7</span>
<span class="t" style="left:376.95px;top:782.00px;font-size:11.3px;color:#505050;">8</span>
<span class="t" style="left:376.77px;top:797.00px;font-size:11.3px;color:#505050;">9</span>
<span class="t" style="left:374.23px;top:812.00px;font-size:11.3px;color:#505050;transform:scaleX(0.9498);">10</span>
<span class="t" style="left:374.16px;top:827.00px;font-size:11.3px;color:#505050;transform:scaleX(1.0411);">11</span>
<span class="t" style="left:374.22px;top:842.00px;font-size:11.3px;color:#505050;transform:scaleX(0.9645);">12</span>
<span class="t" style="left:374.22px;top:857.00px;font-size:11.3px;color:#505050;transform:scaleX(0.9645);">13</span>
<span class="t" style="left:374.23px;top:872.00px;font-size:11.3px;color:#505050;transform:scaleX(0.9498);">14</span>
<span class="t" style="left:374.22px;top:887.00px;font-size:11.3px;color:#505050;transform:scaleX(0.9645);">15</span>
<span class="t" style="left:374.22px;top:902.00px;font-size:11.3px;color:#505050;transform:scaleX(0.9645);">16</span>
<span class="t" style="left:374.22px;top:917.00px;font-size:11.3px;color:#505050;transform:scaleX(0.9645);">17</span>
<span class="t" style="left:434.23px;top:671.00px;font-size:13.4px;color:#ffffff;font-weight:700;transform:scaleX(1.0406);">INCOME STATEMENT</span>
<span class="t" style="left:435.26px;top:734.00px;font-size:10.6px;color:#000;font-style:italic;transform:scaleX(0.9748);">$ thousands</span>
<span class="t" style="left:647.77px;top:734.00px;font-size:10.6px;color:#1d44a7;font-weight:700;">2022A</span>
<span class="t" style="left:718.77px;top:734.00px;font-size:10.6px;color:#1d44a7;font-weight:700;">2023A</span>
<span class="t" style="left:790.49px;top:734.00px;font-size:10.6px;color:#000000;font-weight:700;">2024F</span>
<span class="t" style="left:861.39px;top:734.00px;font-size:10.6px;color:#000000;font-weight:700;">2025F</span>
<span class="t" style="left:932.49px;top:734.00px;font-size:10.6px;color:#000000;font-weight:700;">2025F</span>
<span class="t" style="left:434.24px;top:781.00px;font-size:10.6px;color:#000;font-weight:700;">Revenue</span>
<span class="t" style="left:646.64px;top:781.00px;font-size:10.6px;color:#2f62b8;">10.000</span>
<span class="t" style="left:718.43px;top:781.00px;font-size:10.6px;color:#2f62b8;">11.000</span>
<span class="t" style="left:788.83px;top:781.00px;font-size:10.6px;color:#000000;">11.880</span>
<span class="t" style="left:859.11px;top:781.00px;font-size:10.6px;color:#000000;">13.156</span>
<span class="t" style="left:930.21px;top:781.00px;font-size:10.6px;color:#000000;">14.577</span>
<span class="t" style="left:434.40px;top:796.00px;font-size:10.6px;color:#000;">COGS</span>
<span class="t" style="left:652.54px;top:796.00px;font-size:10.6px;color:#2f62b8;">6.200</span>
<span class="t" style="left:723.54px;top:796.00px;font-size:10.6px;color:#2f62b8;">6.800</span>
<span class="t" style="left:793.94px;top:796.00px;font-size:10.6px;color:#000000;">7.344</span>
<span class="t" style="left:865.00px;top:796.00px;font-size:10.6px;color:#000000;">8.133</span>
<span class="t" style="left:936.89px;top:796.00px;font-size:10.6px;color:#000000;">9.011</span>
<span class="t" style="left:434.57px;top:826.00px;font-size:10.6px;color:#000;font-weight:700;">Gross profit</span>
<span class="t" style="left:652.70px;top:826.00px;font-size:10.6px;color:#1d44a7;font-weight:700;">3.800</span>
<span class="t" style="left:723.70px;top:826.00px;font-size:10.6px;color:#1d44a7;font-weight:700;">4.200</span>
<span class="t" style="left:793.94px;top:826.00px;font-size:10.6px;color:#000000;font-weight:700;">4.536</span>
<span class="t" style="left:864.84px;top:826.00px;font-size:10.6px;color:#000000;font-weight:700;">5.023</span>
<span class="t" style="left:935.94px;top:826.00px;font-size:10.6px;color:#000000;font-weight:700;">5.566</span>
<span class="t" style="left:434.40px;top:857.00px;font-size:10.6px;color:#000;">Overhead - variable</span>
<span class="t" style="left:652.54px;top:857.00px;font-size:10.6px;color:#2f62b8;">1.000</span>
<span class="t" style="left:723.54px;top:857.00px;font-size:10.6px;color:#2f62b8;">1.100</span>
<span class="t" style="left:794.10px;top:857.00px;font-size:10.6px;color:#000000;">1.491</span>
<span class="t" style="left:865.00px;top:857.00px;font-size:10.6px;color:#000000;">1.801</span>
<span class="t" style="left:936.10px;top:857.00px;font-size:10.6px;color:#000000;">1.929</span>
<span class="t" style="left:434.40px;top:871.00px;font-size:10.6px;color:#000;">Overhead  - fixed</span>
<span class="t" style="left:652.54px;top:871.00px;font-size:10.6px;color:#2f62b8;">1.000</span>
<span class="t" style="left:723.54px;top:871.00px;font-size:10.6px;color:#2f62b8;">1.100</span>
<span class="t" style="left:793.94px;top:871.00px;font-size:10.6px;color:#000000;">1.260</span>
<span class="t" style="left:865.00px;top:871.00px;font-size:10.6px;color:#000000;">1.345</span>
<span class="t" style="left:935.94px;top:871.00px;font-size:10.6px;color:#000000;">1.510</span>
<span class="t" style="left:434.57px;top:886.00px;font-size:10.6px;color:#000;font-weight:700;">Overhead costs</span>
<span class="t" style="left:652.70px;top:886.00px;font-size:10.6px;color:#1d44a7;font-weight:700;">2.000</span>
<span class="t" style="left:723.70px;top:886.00px;font-size:10.6px;color:#1d44a7;font-weight:700;">2.200</span>
<span class="t" style="left:793.94px;top:886.00px;font-size:10.6px;color:#000000;font-weight:700;">2.751</span>
<span class="t" style="left:864.84px;top:886.00px;font-size:10.6px;color:#000000;font-weight:700;">3.146</span>
<span class="t" style="left:935.94px;top:886.00px;font-size:10.6px;color:#000000;font-weight:700;">3.439</span>
<span class="t" style="left:434.24px;top:916.00px;font-size:10.6px;color:#000;font-weight:700;">EBITDA</span>
<span class="t" style="left:652.70px;top:916.00px;font-size:10.6px;color:#1d44a7;font-weight:700;">1.800</span>
<span class="t" style="left:723.70px;top:916.00px;font-size:10.6px;color:#1d44a7;font-weight:700;">2.000</span>
<span class="t" style="left:793.94px;top:916.00px;font-size:10.6px;color:#000000;font-weight:700;">1.785</span>
<span class="t" style="left:865.00px;top:916.00px;font-size:10.6px;color:#000000;font-weight:700;">1.877</span>
<span class="t" style="left:936.10px;top:916.00px;font-size:10.6px;color:#000000;font-weight:700;">2.127</span>
</div>
</div>
</body>
</html>
